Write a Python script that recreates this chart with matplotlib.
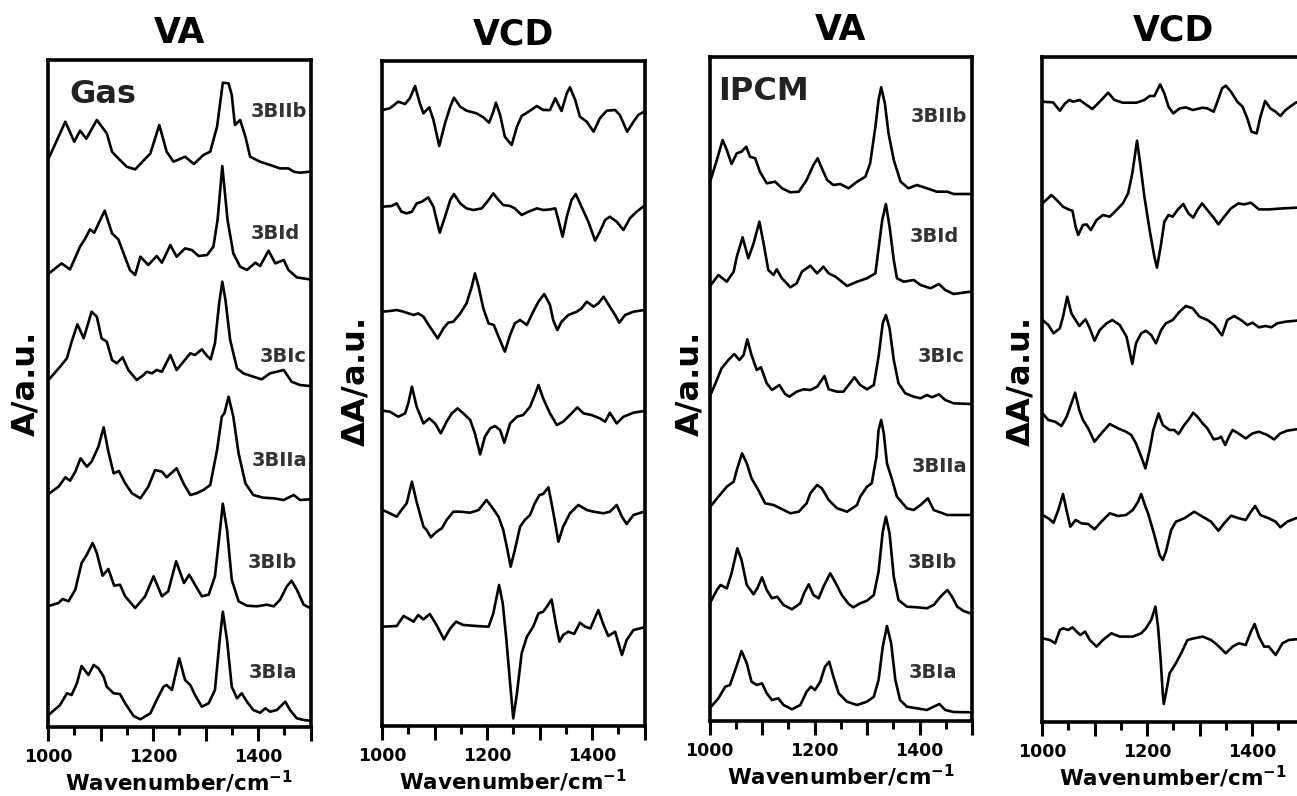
import matplotlib
matplotlib.use("Agg")
import matplotlib.pyplot as plt
from matplotlib.ticker import MultipleLocator, FuncFormatter

plt.rcParams['font.family'] = ['DejaVu Sans']
plt.rcParams['font.weight'] = 'bold'
plt.rcParams['mathtext.default'] = 'bf'

names = ['3BIIb', '3BId', '3BIc', '3BIIa', '3BIb', '3BIa']

# ---- gas phase VA (wavenumber, intensity above baseline) ----
gva_IIb_w = [1001, 1033, 1050, 1061, 1073, 1093, 1112, 1122, 1132, 1150, 1166, 1195, 1212, 1226, 1239, 1261, 1278, 1296, 1309, 1322, 1333, 1344, 1350, 1356, 1366, 1376, 1385, 1404, 1423, 1442, 1458, 1468, 1480, 1499]
gva_IIb_a = [13, 50, 30, 41, 33, 51.7, 38.3, 20, 14.3, 5, 2.3, 18.3, 46.7, 20, 10, 15, 7.7, 16.7, 20, 45, 89, 88.3, 76.7, 46.7, 51.7, 35, 15, 10, 6.7, 3.3, 3.3, 0, -1, 0]
gva_Id_w = [1001, 1026, 1042, 1061, 1071, 1080, 1088, 1108, 1122, 1134, 1144, 1156, 1166, 1176, 1191, 1207, 1217, 1233, 1245, 1261, 1274, 1287, 1303, 1315, 1323, 1332, 1342, 1353, 1366, 1379, 1395, 1404, 1420, 1433, 1449, 1458, 1474, 1499]
gva_Id_a = [8, 18.3, 12.3, 35, 43.3, 52.3, 49, 71, 48.3, 42.3, 28.3, 11.7, 6.7, 25, 16.7, 25.7, 19, 36.7, 25, 33.3, 31.7, 25.7, 26.7, 35, 61.7, 115.7, 61.7, 28.3, 15, 11.7, 19, 15.7, 31, 18.3, 21.7, 11.7, 4.3, 2.3]
gva_Ic_w = [1001, 1023, 1036, 1045, 1056, 1068, 1083, 1093, 1102, 1112, 1122, 1131, 1142, 1153, 1169, 1182, 1188, 1198, 1207, 1217, 1233, 1245, 1258, 1271, 1280, 1293, 1303, 1310, 1318, 1326, 1332, 1338, 1347, 1360, 1372, 1391, 1407, 1423, 1436, 1449, 1464, 1480, 1499]
gva_Ic_a = [5, 18.3, 26.7, 43.3, 60.7, 46.7, 73.3, 68.3, 46.7, 43.3, 25, 21.7, 27.7, 15, 5, 10, 13.3, 11.7, 15, 13.3, 30, 15, 23.3, 31.7, 30, 35.7, 29, 25.7, 41.7, 81.7, 103.3, 85, 45, 16.7, 11.7, 8.3, 5.7, 11.7, 13.3, 15, 3.3, 0, -1]
gva_IIa_w = [1001, 1020, 1033, 1042, 1052, 1062, 1074, 1083, 1096, 1106, 1115, 1125, 1135, 1147, 1160, 1176, 1191, 1204, 1217, 1226, 1245, 1258, 1271, 1283, 1296, 1309, 1322, 1331, 1336, 1344, 1353, 1363, 1376, 1391, 1410, 1430, 1449, 1468, 1480, 1499]
gva_IIa_a = [6, 13.3, 22.7, 19.3, 28.3, 41.7, 33.3, 38.3, 53.3, 72.7, 48.3, 26.7, 29, 16.7, 6.7, 1.7, 13.3, 30, 28.3, 22.7, 31.7, 16.7, 5, 6.7, 10, 15, 50, 83.3, 86.7, 103.3, 83.3, 46.7, 16.7, 5, 2.3, 1.7, 0, 5, 0, 0.7]
gva_Ib_w = [1001, 1020, 1028, 1039, 1052, 1064, 1074, 1085, 1093, 1104, 1115, 1126, 1137, 1147, 1166, 1185, 1201, 1217, 1229, 1244, 1259, 1269, 1280, 1293, 1306, 1318, 1327, 1333, 1341, 1350, 1363, 1379, 1398, 1417, 1430, 1442, 1455, 1464, 1474, 1487, 1499]
gva_Ib_a = [1, 4, 8, 5.7, 17.3, 44, 52.3, 64, 54, 31.3, 38, 21.3, 22.3, 10.7, -1, 10.7, 30.7, 10.7, 15.7, 45.7, 24, 32.3, 22.3, 10.7, 12.3, 30.7, 74, 103.3, 77.3, 27.3, 5.7, 1.3, 0.7, 2.3, 0.7, 7.3, 20.7, 26.3, 17.3, 2.3, -1]
gva_Ia_w = [1001, 1023, 1036, 1045, 1055, 1064, 1077, 1087, 1096, 1106, 1112, 1125, 1137, 1147, 1163, 1176, 1195, 1207, 1220, 1226, 1236, 1250, 1261, 1271, 1280, 1293, 1306, 1318, 1327, 1333, 1341, 1350, 1360, 1369, 1379, 1391, 1404, 1414, 1423, 1436, 1452, 1461, 1474, 1487, 1499]
gva_Ia_a = [5, 15, 26.7, 25, 36.7, 54, 45, 55, 51.7, 43.3, 33.3, 26.7, 26, 16.7, 4, 0.7, 6.7, 20, 33.3, 35, 30, 61.7, 40, 35, 25, 13.3, 16.7, 30, 80, 108.3, 80, 33.3, 21.7, 26.7, 18.3, 10, 7.3, 11.7, 8.3, 10, 18.3, 10, 1.7, 0, -0.7]

# ---- gas phase VCD ----
gvcd_IIb_w = [1001, 1015, 1031, 1044, 1053, 1063, 1072, 1079, 1090, 1098, 1109, 1120, 1130, 1137, 1149, 1161, 1180, 1193, 1204, 1212, 1217, 1225, 1234, 1247, 1257, 1266, 1279, 1295, 1307, 1320, 1330, 1342, 1352, 1358, 1368, 1377, 1390, 1403, 1415, 1428, 1444, 1453, 1467, 1479, 1488, 1499]
gvcd_IIb_a = [0, 1.7, 8.3, 6, 11.7, 24, 6.7, -3.3, 2.7, -10, -36, -13.3, 3.3, 12.3, 3.3, -0.7, -3.3, -7.3, -12.7, -1.7, 7.3, -5, -26.7, -35, -16.7, -6, -1.7, 4, 0, 0, 11.7, -1, 16.7, 22.7, 10, -6.7, -11.7, -21.7, -8.3, -0.7, 0, -5, -21.7, -11.7, -5, -1.7]
gvcd_Id_w = [1001, 1018, 1028, 1037, 1047, 1057, 1066, 1076, 1088, 1098, 1104, 1110, 1120, 1130, 1137, 1149, 1161, 1174, 1190, 1203, 1212, 1222, 1231, 1244, 1253, 1266, 1279, 1295, 1307, 1320, 1330, 1336, 1344, 1352, 1361, 1369, 1380, 1393, 1406, 1415, 1425, 1434, 1447, 1460, 1472, 1485, 1499]
gvcd_Id_a = [0, 0.7, 3.3, -5, -6.7, -5, 3.3, 5, 9.3, 0, -13.3, -26, -10, 6.7, 12.7, 3.3, -1.7, -3.3, -1.7, 6.7, 13.3, 6.7, 1.7, 0.7, -1.7, -8.3, -5, -1.7, -3.3, -2.7, -1.7, -13.3, -30, -10, 6.7, 12.7, 0, -15, -34, -25, -13.3, -10, -15, -23.3, -11.7, -5, 0.7]
gvcd_Ic_w = [1001, 1015, 1028, 1041, 1060, 1069, 1079, 1091, 1106, 1117, 1126, 1136, 1149, 1161, 1171, 1177, 1184, 1193, 1203, 1213, 1222, 1234, 1244, 1253, 1263, 1276, 1288, 1298, 1309, 1320, 1326, 1334, 1342, 1355, 1371, 1380, 1390, 1403, 1412, 1422, 1434, 1444, 1452, 1463, 1479, 1499]
gvcd_Ic_a = [0, 0.7, 1.7, 0, -3.3, -1.7, -5, -15, -26.7, -16.7, -11, -10, -1.7, 8.3, 25, 38.3, 25, 3.3, -11.7, -13.3, -25, -40, -23.3, -11.7, -8.3, -13.3, 0, 10, 17.7, 6.7, -8.3, -18.3, -10, -3.3, 0, 3.3, 10, 5, 8.3, 15, 5, -3.3, -11, -3.3, 0, 1.7]
gvcd_IIa_w = [1001, 1015, 1031, 1044, 1050, 1057, 1066, 1079, 1090, 1101, 1112, 1123, 1133, 1144, 1155, 1168, 1177, 1187, 1196, 1206, 1215, 1225, 1233, 1244, 1257, 1269, 1282, 1291, 1298, 1307, 1320, 1333, 1345, 1358, 1372, 1384, 1399, 1415, 1425, 1434, 1447, 1460, 1479, 1499]
gvcd_IIa_a = [0, -1, -6, -2.7, 7.3, 24, 4, -12.7, -7.7, -12.7, -22.7, -11, -2.7, 2.3, -2.7, -9.3, -22.7, -43.7, -26, -17.7, -15.3, -19.3, -32, -12.7, -6, -4.3, 4, 15.7, 25.7, 12.3, -2.7, -14.3, -11, -4.3, 3.3, -2.7, -4.3, -7.7, -11, -2, -12.7, -6, -2, -0.3]
gvcd_Ib_w = [1001, 1015, 1028, 1037, 1047, 1057, 1066, 1079, 1085, 1093, 1104, 1114, 1123, 1136, 1149, 1168, 1184, 1199, 1209, 1222, 1231, 1239, 1245, 1253, 1263, 1272, 1282, 1291, 1300, 1307, 1317, 1323, 1330, 1336, 1345, 1358, 1374, 1390, 1403, 1422, 1434, 1447, 1457, 1466, 1479, 1499]
gvcd_Ib_a = [0, -3.3, -6.7, 0, 6.7, 28.3, 8, -16.7, -20, -27.3, -21.7, -18.3, -10, -1.7, -1.7, -2.7, 0, 10, 3.3, -6.7, -20, -40, -56.7, -40, -16.7, -10, -5, 6.7, 15, 16, 22.7, 6.7, -13.3, -31.7, -16.7, -3.3, 5, 0, -1.7, -3.3, -1.7, 5, -6.7, -14, -5, -1.7]
gvcd_Ia_w = [1001, 1028, 1041, 1053, 1060, 1069, 1079, 1091, 1104, 1118, 1130, 1141, 1155, 1180, 1203, 1212, 1223, 1230, 1237, 1244, 1250, 1257, 1266, 1276, 1288, 1298, 1307, 1314, 1323, 1331, 1338, 1345, 1355, 1366, 1377, 1387, 1397, 1412, 1422, 1431, 1444, 1457, 1466, 1479, 1499]
gvcd_Ia_a = [0, 0.7, 10.7, 7.3, 5, 11.7, 7.3, 12.7, 1.7, -12.7, -1.7, 5, 1.7, 0.7, 0, 13.3, 41.7, 23.3, -13.3, -56.7, -91.7, -66.7, -26.7, -10, 0, 13.3, 15, 20, 27.3, 3.3, -15, -8.3, -5, -7.3, 4, 0, -1.7, 16.7, 1.7, -9.3, -5, -28.3, -13.3, -3.3, -0.7]

# ---- IPCM VA ----
pva_IIb_w = [1001, 1014, 1025, 1033, 1042, 1052, 1061, 1070, 1077, 1087, 1096, 1109, 1125, 1138, 1154, 1170, 1185, 1198, 1206, 1214, 1224, 1236, 1249, 1265, 1281, 1297, 1306, 1316, 1322, 1327, 1334, 1341, 1351, 1364, 1379, 1395, 1414, 1433, 1453, 1465, 1497]
pva_IIb_a = [12, 34, 54, 44, 30, 40.7, 42.3, 47.3, 37.3, 35.7, 22.3, 10.7, 12.3, 5.7, 1.7, 2.3, 14, 29, 35.7, 25.7, 14, 9, 10, 5.7, 12.3, 17.3, 30.7, 67.3, 94, 106.7, 90.7, 60.7, 34, 12.3, 5.7, 9, 5.7, 2.3, 2.3, 0, 0]
pva_Id_w = [1001, 1017, 1033, 1046, 1052, 1063, 1074, 1084, 1095, 1103, 1112, 1122, 1128, 1138, 1154, 1166, 1176, 1192, 1205, 1217, 1227, 1240, 1262, 1281, 1300, 1316, 1329, 1336, 1343, 1351, 1357, 1370, 1389, 1402, 1421, 1437, 1449, 1465, 1497]
pva_Id_a = [8, 19, 12.3, 22.3, 37.3, 56.7, 35.7, 50.7, 72.3, 50.7, 24, 19, 24.7, 15.7, 6.7, 10.7, 22.3, 28.3, 20.7, 27.3, 20.7, 17.3, 8, 12.3, 15.7, 20.7, 74, 90, 67.3, 34, 15.7, 12.3, 14, 9, 5.7, 10, 4, 0, 2.3]
pva_Ic_w = [1001, 1014, 1023, 1036, 1047, 1057, 1065, 1072, 1080, 1090, 1098, 1109, 1119, 1133, 1144, 1152, 1166, 1179, 1192, 1205, 1219, 1227, 1243, 1255, 1265, 1276, 1287, 1300, 1313, 1322, 1330, 1336, 1343, 1351, 1360, 1373, 1389, 1402, 1414, 1424, 1437, 1449, 1465, 1497]
pva_Ic_a = [8, 24, 35.7, 44, 50, 44, 49, 64.7, 49, 34, 36.7, 20.7, 14, 19, 10, 7.3, 12.3, 14.7, 14, 17.3, 28, 14.7, 12.3, 12.3, 19, 26.7, 19, 14.7, 19, 47.3, 80.7, 89, 75.7, 44, 20.7, 10.7, 7.3, 5.7, 9, 6.7, 9.7, 4, 0.7, 0]
pva_IIa_w = [1001, 1017, 1033, 1046, 1052, 1062, 1071, 1080, 1093, 1106, 1122, 1135, 1154, 1170, 1185, 1192, 1205, 1214, 1227, 1243, 1262, 1281, 1287, 1300, 1309, 1318, 1322, 1327, 1332, 1338, 1348, 1357, 1376, 1389, 1402, 1416, 1427, 1453, 1497]
pva_IIa_a = [8, 18.3, 28.3, 33.3, 45, 61.7, 51.7, 36.7, 25, 11.7, 10, 6.7, 1.7, 3.3, 11.7, 21.7, 30, 26.7, 15, 6.7, 3.3, 10, 18.3, 28.3, 31.7, 58.3, 85, 95, 81.7, 51.7, 35, 18.3, 6.7, 5, 10, 16.7, 5, 0, 0]
pva_Ib_w = [1001, 1014, 1021, 1033, 1042, 1053, 1061, 1071, 1084, 1091, 1100, 1109, 1119, 1129, 1141, 1157, 1173, 1180, 1189, 1198, 1208, 1217, 1230, 1239, 1252, 1265, 1274, 1287, 1300, 1313, 1322, 1330, 1336, 1343, 1351, 1360, 1376, 1395, 1414, 1427, 1440, 1453, 1462, 1472, 1484, 1497]
pva_Ib_a = [7, 20, 25, 21.7, 36.7, 61.7, 50, 25, 15.7, 21.7, 32.7, 20, 11.7, 13.3, 5, 0.7, 6.7, 16.7, 25.7, 15, 11.7, 23.3, 36.7, 28.3, 15, 6, 2.7, 6.7, 9.3, 15, 38.3, 78.3, 93.3, 76.7, 33.3, 10, 3.3, 2.7, 1.7, 5, 13.3, 20, 13.3, 3.3, -1, -3.3]
pva_Ia_w = [1001, 1017, 1030, 1039, 1049, 1061, 1071, 1080, 1090, 1100, 1109, 1119, 1131, 1141, 1157, 1173, 1185, 1193, 1201, 1211, 1220, 1228, 1236, 1246, 1262, 1281, 1300, 1313, 1322, 1330, 1338, 1346, 1354, 1363, 1376, 1395, 1414, 1427, 1438, 1449, 1465, 1497]
pva_Ia_a = [4, 13.7, 25.3, 27, 42, 61, 48.7, 30.3, 27, 28.7, 18.7, 12, 13.7, 7, 2.7, 7, 20.3, 25.3, 22, 30.3, 45.3, 50.3, 35.3, 18.7, 10.3, 7, 10.3, 15.3, 32, 65.3, 86, 68.7, 32, 12, 5.3, 3.7, 2, 5.3, 8, 2, 0, -0.3]

# ---- IPCM VCD ----
pvcd_IIb_w = [1001, 1021, 1034, 1044, 1052, 1059, 1072, 1085, 1096, 1110, 1126, 1138, 1154, 1180, 1195, 1205, 1214, 1225, 1233, 1241, 1250, 1262, 1274, 1287, 1306, 1315, 1327, 1334, 1343, 1350, 1360, 1372, 1382, 1391, 1399, 1409, 1416, 1425, 1435, 1445, 1454, 1464, 1483, 1500]
pvcd_IIb_a = [0, -0.7, -9, -1.7, 1.7, 0, 1.7, -3.3, -7.3, 0, 9, 1.7, -1, -1, 1.7, 5.7, 5.7, 17.3, 8.3, -5, -11.7, -6.7, -5.7, -8.3, -6, -6.7, -10, 0, 13.3, 16, 10, 0, -5, -16.7, -30, -31.7, -15, 0.7, -6.7, -10, -14.3, -8.3, -1, 1]
pvcd_Id_w = [1001, 1018, 1028, 1040, 1053, 1058, 1064, 1069, 1078, 1085, 1093, 1104, 1116, 1129, 1142, 1154, 1164, 1172, 1181, 1187, 1195, 1205, 1214, 1219, 1227, 1233, 1241, 1249, 1258, 1269, 1279, 1288, 1296, 1305, 1315, 1328, 1336, 1347, 1360, 1374, 1385, 1398, 1413, 1432, 1458, 1483, 1500]
pvcd_Id_a = [3.3, 11.7, 6.7, 0, -3.3, -4, -20, -28.3, -18.3, -17.7, -23.3, -13.3, -8.3, -10, -3.3, 3.3, 13.3, 33.3, 66, 43.3, 10, -23.3, -50, -61, -36.7, -15, -8.3, -10, -3.3, 2.7, -6.7, -11, -3.3, 3.3, -3.3, -11.7, -17.7, -10, -1.7, 3.3, 2.3, 4, -2.7, -2.7, -1.7, -1, -1]
pvcd_Ic_w = [1001, 1012, 1022, 1034, 1040, 1048, 1056, 1071, 1083, 1091, 1100, 1110, 1123, 1134, 1148, 1161, 1167, 1172, 1179, 1189, 1198, 1208, 1217, 1227, 1236, 1249, 1262, 1274, 1287, 1300, 1315, 1328, 1343, 1353, 1366, 1379, 1391, 1401, 1413, 1426, 1437, 1448, 1464, 1483, 1500]
pvcd_Ic_a = [0, -5, -13.3, -8.3, 3.3, 23.3, 6.7, -6, 0.7, -8.3, -20.7, -10, -3.3, 0, -5, -16.7, -31.7, -44, -23.3, -13.3, -10.7, -15, -23.3, -10, -3.3, 0, 8.3, 14, 11.7, 3.3, 0, -5, -15.3, 0, 4, 0, -5, -2.7, -7.3, -6, -7.3, -3.3, -1.7, -0.7, 0]
pvcd_IIa_w = [1001, 1012, 1025, 1037, 1047, 1056, 1063, 1071, 1078, 1088, 1100, 1113, 1129, 1145, 1160, 1170, 1179, 1189, 1197, 1205, 1212, 1222, 1230, 1243, 1252, 1260, 1271, 1281, 1288, 1296, 1306, 1315, 1327, 1336, 1341, 1349, 1356, 1363, 1374, 1388, 1401, 1413, 1429, 1442, 1454, 1467, 1483, 1500]
pvcd_IIa_a = [13.3, 6.7, 5, 0.7, 10, 23.3, 34, 16.7, 6.7, -1.7, -15, -6.7, 2.7, -1.7, -5, -8.3, -16.7, -30, -41.7, -23.3, -3.3, 13.3, 1.7, -3.3, -3.3, -7.3, 1.7, 8.3, 14, 10, 3.3, -1.7, -12.7, -11.7, -10, -18.3, -10, -3.3, -6.7, -11.7, -6.7, -5, -8.3, -12.7, -6.7, -4, -2.7, -2]
pvcd_Ib_w = [1001, 1012, 1022, 1031, 1040, 1048, 1054, 1064, 1075, 1088, 1100, 1113, 1129, 1145, 1160, 1173, 1183, 1189, 1197, 1202, 1214, 1224, 1230, 1236, 1246, 1255, 1271, 1290, 1306, 1322, 1336, 1347, 1360, 1375, 1388, 1398, 1406, 1416, 1432, 1445, 1454, 1467, 1483, 1500]
pvcd_Ib_a = [0, -3.3, -7.7, 5, 21, 1.7, -11.7, -5, -8.3, -9, -14.3, -6.7, 1.7, -1, 0, 5, 13.3, 21, 8.3, 1.7, -20, -40, -45, -36.7, -15, -6.7, -3.3, 3.3, -1.7, -6.7, -15.7, -8.3, -0.7, -3.3, -5, 3.3, 9, 0, -3.3, -6.7, -12.3, -6.7, -3.3, -2]
pvcd_Ia_w = [1001, 1015, 1025, 1034, 1040, 1050, 1058, 1066, 1073, 1082, 1091, 1104, 1116, 1132, 1148, 1173, 1189, 1198, 1208, 1216, 1221, 1226, 1230, 1232, 1236, 1243, 1255, 1265, 1277, 1290, 1306, 1322, 1334, 1350, 1363, 1375, 1388, 1398, 1405, 1413, 1423, 1432, 1445, 1458, 1470, 1483, 1500]
pvcd_Ia_a = [0, -1.7, -5, 8.3, 10, 8.3, 11, 6.7, 3.3, 6.7, -1.7, -8.3, -1.7, 5, 1.7, 1.7, 5, 10, 18.3, 31.7, 11.7, -21.7, -55, -65.7, -55, -35, -25, -15, -1.7, 0, 1.7, -1.7, -6.7, -15, -8.3, -5, -6.7, 6.7, 14.3, 1.7, -8.3, -8.3, -16.7, -5, -1.7, -1, -1]

gas_va = [(gva_IIb_w, gva_IIb_a), (gva_Id_w, gva_Id_a), (gva_Ic_w, gva_Ic_a),
          (gva_IIa_w, gva_IIa_a), (gva_Ib_w, gva_Ib_a), (gva_Ia_w, gva_Ia_a)]
gas_vcd = [(gvcd_IIb_w, gvcd_IIb_a), (gvcd_Id_w, gvcd_Id_a), (gvcd_Ic_w, gvcd_Ic_a),
           (gvcd_IIa_w, gvcd_IIa_a), (gvcd_Ib_w, gvcd_Ib_a), (gvcd_Ia_w, gvcd_Ia_a)]
pcm_va = [(pva_IIb_w, pva_IIb_a), (pva_Id_w, pva_Id_a), (pva_Ic_w, pva_Ic_a),
          (pva_IIa_w, pva_IIa_a), (pva_Ib_w, pva_Ib_a), (pva_Ia_w, pva_Ia_a)]
pcm_vcd = [(pvcd_IIb_w, pvcd_IIb_a), (pvcd_Id_w, pvcd_Id_a), (pvcd_Ic_w, pvcd_Ic_a),
           (pvcd_IIa_w, pvcd_IIa_a), (pvcd_Ib_w, pvcd_Ib_a), (pvcd_Ia_w, pvcd_Ia_a)]

# stacking offsets and label spots (a.u.)
off_gas_va = [555.3, 445.3, 342, 227, 120, 7]
off_gas_vcd = [616, 519.3, 414.3, 315.3, 216, 99.3]
off_pcm_va = [527, 427, 317, 206, 111, 9]
off_pcm_vcd = [620.3, 515.3, 402, 295.3, 207, 83.7]
lab_gas = [(1493, 60), (1480, 48), (1493, 29), (1493, 40), (1474, 45), (1474, 48)]
lab_pcm = [(1491, 78), (1475, 58), (1487, 47), (1491, 48), (1472, 47), (1472, 39)]

W, H = 1297, 796
fig = plt.figure(figsize=(W / 100, H / 100), dpi=100)

panels = [
    # left px, top px, bottom px, title, ylabel, ylabel x px, data, offsets, labels, tag
    (48, 60, 727, 'VA', 'A/a.u.', 26, gas_va, off_gas_va, lab_gas, 'Gas'),
    (382, 61, 726, 'VCD', r'$\Delta$A/a.u.', 356, gas_vcd, off_gas_vcd, None, None),
    (709.5, 57, 721, 'VA', 'A/a.u.', 690, pcm_va, off_pcm_va, lab_pcm, 'IPCM'),
    (1042, 57, 722, 'VCD', r'$\Delta$A/a.u.', 1021, pcm_vcd, off_pcm_vcd, None, None),
]

def fmt(v, pos):
    return '%d' % v if int(round(v)) % 200 == 0 else ''

for left, top, bot, title, ylab, ylx, data, offs, labs, tag in panels:
    width = 262.5
    ax = fig.add_axes([left / W, 1 - bot / H, width / W, (bot - top) / H])
    for (w, a), o in zip(data, offs):
        ax.plot(w, [o + v for v in a], color='black', lw=1.9, solid_joinstyle='round')
    ax.set_xlim(1000, 1500)
    ax.set_ylim(0, bot - top)
    ax.set_yticks([])
    for s in ax.spines.values():
        s.set_linewidth(2.6)
    ax.xaxis.set_major_locator(MultipleLocator(100))
    ax.xaxis.set_minor_locator(MultipleLocator(50))
    ax.xaxis.set_major_formatter(FuncFormatter(fmt))
    ax.tick_params(axis='x', which='major', direction='out', length=10, width=2.2,
                   pad=5, labelsize=12.5)
    ax.tick_params(axis='x', which='minor', direction='out', length=5.5, width=2.2)
    ax.set_xlabel(r'Wavenumber/cm$^{-1}$', fontsize=15.5, fontweight='bold', labelpad=2)
    ax.set_title(title, fontsize=25, fontweight='bold', pad=12)
    ycen = (bot - 383) / (bot - top)
    ax.text((ylx - left) / width, ycen, ylab, transform=ax.transAxes, rotation=90,
            ha='center', va='center', fontsize=23, fontweight='bold')
    if labs is not None:
        for nm, (lx, ly), o in zip(names, labs, offs):
            ax.text(lx, o + ly, nm, ha='right', va='center', fontsize=14,
                    fontweight='bold', color='#333333')
    if tag is not None:
        ax.text(0.08 if tag == 'Gas' else 0.032, 0.935, tag, transform=ax.transAxes,
                ha='left', va='baseline', fontsize=23, fontweight='bold', color='#222222')

fig.savefig('out.png', dpi=100)
